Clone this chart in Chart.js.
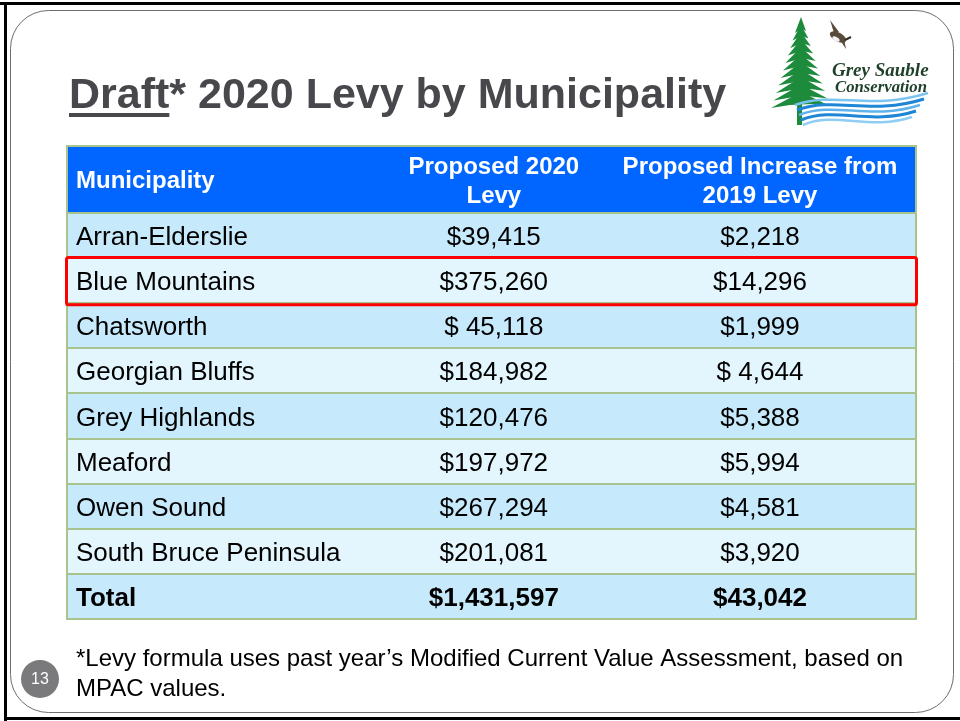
<!DOCTYPE html>
<html lang="en">
<head>
<meta charset="UTF-8">
<title>Draft 2020 Levy by Municipality</title>
<style>
  html, body { margin: 0; padding: 0; background: #ffffff; }
  #levyChart { display: block; }
</style>
<script src="https://cdn.jsdelivr.net/npm/chart.js"></script>
</head>
<body>
<canvas id="levyChart" width="960" height="721"></canvas>
<script>
// table data
const municipalities = ['Arran-Elderslie', 'Blue Mountains', 'Chatsworth', 'Georgian Bluffs', 'Grey Highlands', 'Meaford', 'Owen Sound', 'South Bruce Peninsula', 'Total'];
const levy2020 = ['$39,415', '$375,260', '$ 45,118', '$184,982', '$120,476', '$197,972', '$267,294', '$201,081', '$1,431,597'];
const increaseFrom2019 = ['$2,218', '$14,296', '$1,999', '$ 4,644', '$5,388', '$5,994', '$4,581', '$3,920', '$43,042'];
const headers = [['Municipality'], ['Proposed 2020', 'Levy'], ['Proposed Increase from', '2019 Levy']];
const highlighted = 'Blue Mountains';
const titleText = ['Draft', '* 2020 Levy by Municipality'];
const footnote = ['*Levy formula uses past year\u2019s Modified Current Value Assessment, based on', 'MPAC values.'];
const pageNumber = '13';

// layout: column edges in % of the table width, header height in px
const colEdges = [0, 37.3, 63.25, 100];
const headerHeight = 67;
const FONT = '"Liberation Sans", Arial, sans-serif';

const darkRow = '#c6e9fb';
const lightRow = '#e3f5fd';
const lineColor = '#a9c38d';

function drawLogo(ctx) {
    // tree
    ctx.fillStyle = '#1d8a3c';
    ctx.fillRect(797, 95, 5, 30);
    const cx = 801, tiers = 11;
    for (let k = 0; k < tiers; k++) {
        const top = 17 + k * 7.5;
        const h = 15;
        const hw = 4 + k * 2.4;
        ctx.beginPath();
        ctx.moveTo(cx, top);
        ctx.lineTo(cx + hw + 1, top + h - 1);
        ctx.lineTo(cx + hw * 0.4, top + h - 3);
        ctx.lineTo(cx - hw * 0.4, top + h - 2);
        ctx.lineTo(cx - hw - 2, top + h + 1);
        ctx.closePath();
        ctx.fill();
    }
    // goose
    ctx.fillStyle = '#5a4a3a';
    ctx.beginPath();
    ctx.ellipse(838, 37, 9, 4.5, 0.5, 0, Math.PI * 2);
    ctx.fill();
    ctx.beginPath();
    ctx.moveTo(834, 33);
    ctx.lineTo(830, 20);
    ctx.lineTo(839, 32);
    ctx.closePath();
    ctx.fill();
    ctx.beginPath();
    ctx.moveTo(840, 40);
    ctx.lineTo(846, 49);
    ctx.lineTo(844, 39);
    ctx.closePath();
    ctx.fill();
    ctx.strokeStyle = '#3a2e24';
    ctx.lineWidth = 2;
    ctx.beginPath();
    ctx.moveTo(845, 40);
    ctx.lineTo(851, 37);
    ctx.stroke();
    ctx.fillStyle = '#f2f2f2';
    ctx.beginPath();
    ctx.ellipse(836, 39, 4, 2, 0.5, 0, Math.PI * 2);
    ctx.fill();
    // waves
    const waves = [[99, '#7cc4f0'], [104, '#1f86d6'], [109, '#5fb3ec'], [114, '#1f86d6'], [119, '#8fcdf3']];
    waves.forEach(([y, c], i) => {
        ctx.strokeStyle = c;
        ctx.lineWidth = i % 2 ? 3 : 2.5;
        ctx.beginPath();
        ctx.moveTo(795 + i * 2, y + 6);
        ctx.bezierCurveTo(835, y - 8, 870, y + 12, 928 - i * 4, y - 6 + i);
        ctx.stroke();
    });
    // name
    ctx.fillStyle = '#1e3f28';
    ctx.textAlign = 'left';
    ctx.textBaseline = 'alphabetic';
    ctx.font = 'italic bold 19px "Liberation Serif", "DejaVu Serif", serif';
    ctx.fillText('Grey Sauble', 832, 76, 97);
    ctx.font = 'italic bold 17px "Liberation Serif", "DejaVu Serif", serif';
    ctx.fillText('Conservation', 835, 92, 92);
}

const slidePlugin = {
    id: 'slide',
    beforeDraw(chart) {
        const ctx = chart.ctx;
        ctx.save();
        ctx.fillStyle = '#ffffff';
        ctx.fillRect(0, 0, chart.width, chart.height);
        // outer black frame
        ctx.fillStyle = '#000000';
        ctx.fillRect(0, 2, 960, 3);
        ctx.fillRect(4, 2, 3, 719);
        ctx.fillRect(4, 717, 956, 3);
        // inner rounded frame
        ctx.strokeStyle = '#6e6e6e';
        ctx.lineWidth = 1;
        ctx.beginPath();
        ctx.roundRect(10.5, 10.5, 943, 702, 38);
        ctx.stroke();
        // title
        ctx.fillStyle = '#48474c';
        ctx.font = 'bold 43px ' + FONT;
        ctx.textBaseline = 'alphabetic';
        ctx.textAlign = 'left';
        ctx.fillText(titleText[0], 69, 108);
        const w = ctx.measureText(titleText[0]).width;
        ctx.fillRect(69, 113, w, 4);
        ctx.fillText(titleText[1], 69 + w, 108);
        ctx.restore();
    },
    afterDatasetsDraw(chart) {
        const ctx = chart.ctx;
        const xs = chart.scales.x, ys = chart.scales.y;
        const area = chart.chartArea;
        const left = xs.getPixelForValue(0), right = xs.getPixelForValue(100);
        const mid = i => xs.getPixelForValue((colEdges[i] + colEdges[i + 1]) / 2);
        ctx.save();
        // header band
        ctx.fillStyle = '#0066ff';
        ctx.fillRect(left, area.top - headerHeight, right - left, headerHeight);
        ctx.fillStyle = '#ffffff';
        ctx.font = 'bold 24px ' + FONT;
        ctx.textBaseline = 'alphabetic';
        const hc = area.top - headerHeight / 2;
        headers.forEach((lines, c) => {
            ctx.textAlign = c === 0 ? 'left' : 'center';
            const x = c === 0 ? left + 9 : mid(c);
            lines.forEach((t, k) => {
                const y = hc + 8.5 + (k - (lines.length - 1) / 2) * 29;
                ctx.fillText(t, x, y);
            });
        });
        // row separators
        ctx.strokeStyle = lineColor;
        ctx.lineWidth = 2;
        for (let i = 0; i <= municipalities.length; i++) {
            const y = Math.round(ys.getPixelForValue(i - 0.5));
            ctx.beginPath();
            ctx.moveTo(left, y);
            ctx.lineTo(right, y);
            ctx.stroke();
        }
        ctx.strokeRect(left, area.top - headerHeight, right - left, area.bottom - area.top + headerHeight);
        // cell text
        ctx.fillStyle = '#000000';
        municipalities.forEach((m, i) => {
            const isTotal = i === municipalities.length - 1;
            ctx.font = (isTotal ? 'bold ' : '') + '26px ' + FONT;
            const y = ys.getPixelForValue(i) + 9.5;
            ctx.textAlign = 'left';
            ctx.fillText(m, left + 9, y);
            ctx.textAlign = 'center';
            ctx.fillText(levy2020[i], mid(1), y);
            ctx.fillText(increaseFrom2019[i], mid(2), y);
        });
        // red highlight box
        const hi = municipalities.indexOf(highlighted);
        const t = ys.getPixelForValue(hi - 0.5), b = ys.getPixelForValue(hi + 0.5);
        ctx.strokeStyle = '#ff0000';
        ctx.lineWidth = 3;
        ctx.beginPath();
        ctx.roundRect(left - 0.5, t - 0.5, right - left + 1, b - t + 2, 2);
        ctx.stroke();
        ctx.restore();
    },
    afterDraw(chart) {
        const ctx = chart.ctx;
        ctx.save();
        // footnote
        ctx.fillStyle = '#000000';
        ctx.font = '24px ' + FONT;
        ctx.textAlign = 'left';
        ctx.textBaseline = 'alphabetic';
        ctx.fillText(footnote[0], 76, 666);
        ctx.fillText(footnote[1], 76, 696);
        // page number badge
        ctx.fillStyle = '#7a797c';
        ctx.beginPath();
        ctx.arc(40, 679, 19, 0, Math.PI * 2);
        ctx.fill();
        ctx.fillStyle = '#ffffff';
        ctx.font = '16px ' + FONT;
        ctx.textAlign = 'center';
        ctx.textBaseline = 'middle';
        ctx.fillText(pageNumber, 40, 680);
        drawLogo(ctx);
        ctx.restore();
    }
};

new Chart(document.getElementById('levyChart'), {
    type: 'bar',
    data: {
        labels: municipalities,
        datasets: [{
            data: municipalities.map(() => [colEdges[0], colEdges[colEdges.length - 1]]),
            backgroundColor: municipalities.map((m, i) => i % 2 === 0 ? darkRow : lightRow),
            borderWidth: 0,
            barPercentage: 1,
            categoryPercentage: 1
        }]
    },
    options: {
        indexAxis: 'y',
        responsive: false,
        animation: false,
        layout: { padding: { left: 67, right: 44, top: 213, bottom: 102 } },
        plugins: { legend: { display: false }, tooltip: { enabled: false } },
        scales: {
            x: { type: 'linear', min: 0, max: 100, display: false },
            y: { display: false }
        }
    },
    plugins: [slidePlugin]
});
</script>
</body>
</html>
